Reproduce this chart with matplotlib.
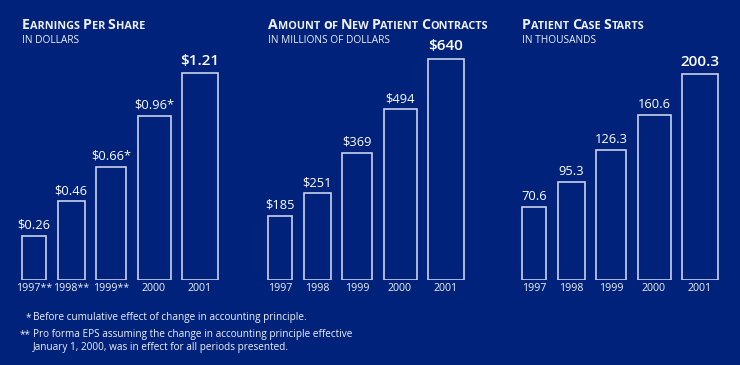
import matplotlib
matplotlib.use("Agg")
import matplotlib.pyplot as plt

# ---- data ----
years = ["1997", "1998", "1999", "2000", "2001"]
eps_labels = ["1997**", "1998**", "1999**", "2000", "2001"]
eps = [0.26, 0.46, 0.66, 0.96, 1.21]
eps_text = ["$0.26", "$0.46", "$0.66*", "$0.96*", "$1.21"]
contracts = [185, 251, 369, 494, 640]
contracts_text = ["$185", "$251", "$369", "$494", "$640"]
starts = [70.6, 95.3, 126.3, 160.6, 200.3]
starts_text = ["70.6", "95.3", "126.3", "160.6", "200.3"]

titles = ["Earnings Per Share", "Amount of New Patient Contracts", "Patient Case Starts"]
subtitles = ["IN DOLLARS", "IN MILLIONS OF DOLLARS", "IN THOUSANDS"]
foot1 = "Before cumulative effect of change in accounting principle."
foot2a = "Pro forma EPS assuming the change in accounting principle effective"
foot2b = "January 1, 2000, was in effect for all periods presented."

BG = "#00227a"
EDGE = "#c9d1ea"
TXT = "#eef1f8"
FONT = "Open Sans"

W, H = 740, 365
fig = plt.figure(figsize=(W / 100, H / 100), dpi=100, facecolor=BG)

def fx(x):
    return x / W

def fy(y):
    return 1 - y / H

widths = [24, 27, 30, 33, 36]
gap = 11.5
panel_left = [22, 268, 522]
ytops = [1.345, 666, 223.7]   # axis top values so that px scale matches
datas = [eps, contracts, starts]
texts = [eps_text, contracts_text, starts_text]
xlabs = [eps_labels, years, years]

bottom_px, top_px = 280, 50
for i in range(3):
    x0 = panel_left[i] - 12
    ax = fig.add_axes([fx(x0), fy(bottom_px), fx(230), (bottom_px - top_px) / H])
    ax.set_facecolor(BG)
    ax.set_xlim(0, 230)
    ax.set_ylim(0, ytops[i])
    lefts = []
    cur = 12
    for w in widths:
        lefts.append(cur)
        cur += w + gap
    centers = [l + w / 2 for l, w in zip(lefts, widths)]
    ax.bar(centers, datas[i], width=widths, facecolor=BG, edgecolor=EDGE, linewidth=1.2)
    for j, (c, v, t) in enumerate(zip(centers, datas[i], texts[i])):
        big = j == 4
        ax.annotate(t, (c, v), xytext=(0, 4 if big else 3), textcoords="offset points",
                    ha="center", va="bottom", color="white", family=FONT,
                    fontsize=11 if big else 9.3, fontweight="semibold" if big else "normal")
    ax.set_xticks(centers)
    ax.set_xticklabels(xlabs[i], family=FONT, fontsize=7.7, color=TXT)
    ax.tick_params(axis="x", length=0, pad=2.5)
    ax.set_yticks([])
    for s in ax.spines.values():
        s.set_visible(False)

# ---- small-caps titles ----
fig.canvas.draw()
renderer = fig.canvas.get_renderer()

def small_caps(x, y, s, big=10.2, small=7.8):
    cur = x
    words = s.split(" ")
    for k, word in enumerate(words):
        pieces = [(word[0], big), (word[1:].upper(), small)]
        for txt, size in pieces:
            if not txt:
                continue
            t = fig.text(fx(cur), fy(y), txt, fontsize=size, family=FONT,
                         fontweight="bold", color=TXT, ha="left", va="baseline")
            bb = t.get_window_extent(renderer)
            cur += bb.width
        if k < len(words) - 1:
            sp = fig.text(0, 0, "a a", fontsize=small, family=FONT, fontweight="bold")
            sp2 = fig.text(0, 0, "aa", fontsize=small, family=FONT, fontweight="bold")
            cur += sp.get_window_extent(renderer).width - sp2.get_window_extent(renderer).width
            sp.remove(); sp2.remove()

for i in range(3):
    small_caps(panel_left[i], 29, titles[i])
    fig.text(fx(panel_left[i]), fy(43), subtitles[i], fontsize=7.3, family=FONT,
             color=TXT, ha="left", va="baseline")

# ---- footnotes ----
FS = 7.2
fig.text(fx(31), fy(320), "*", fontsize=FS, family=FONT, color=TXT, ha="right", va="baseline")
fig.text(fx(33), fy(320), foot1, fontsize=FS, family=FONT, color=TXT, ha="left", va="baseline")
fig.text(fx(31), fy(337), "**", fontsize=FS, family=FONT, color=TXT, ha="right", va="baseline")
fig.text(fx(33), fy(337), foot2a, fontsize=FS, family=FONT, color=TXT, ha="left", va="baseline")
fig.text(fx(33), fy(350), foot2b, fontsize=FS, family=FONT, color=TXT, ha="left", va="baseline")

fig.savefig("out.png", dpi=100, facecolor=BG)
